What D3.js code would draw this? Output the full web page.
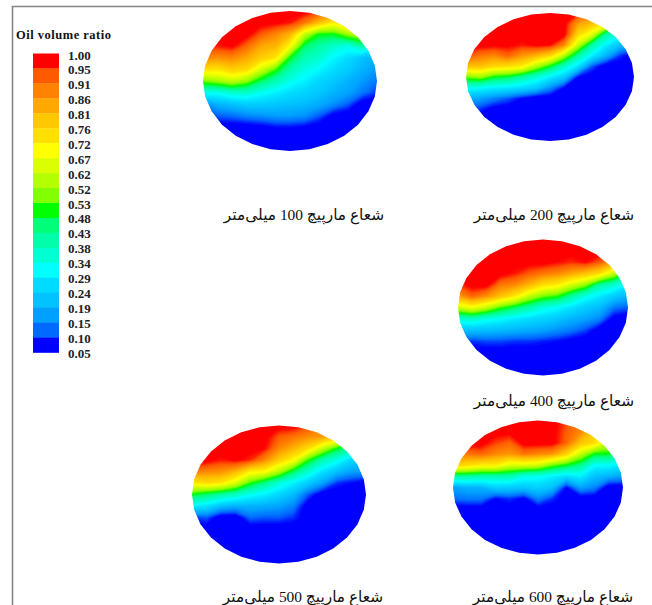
<!DOCTYPE html>
<html>
<head>
<meta charset="utf-8">
<script src="https://cdn.jsdelivr.net/npm/d3@7"></script>
<style>
    body { margin: 0; background: white; }
</style>
</head>
<body>
<script>
// legend
const legendTitle = "Oil volume ratio"
const legendLabels = ["1.00","0.95","0.91","0.86","0.81","0.76","0.72","0.67","0.62","0.52","0.53",
    "0.48","0.43","0.38","0.34","0.29","0.24","0.19","0.15","0.10","0.05"]
const bandColors = ["#ff0000","#ff5a00","#ff8200","#ffa800","#ffc800","#ffe000","#ffff00","#dcff00",
    "#b4ff00","#82ff00","#00ff00","#00ff78","#00ffaa","#00ffd2","#00ffff","#00dcff","#00c3ff",
    "#00a0ff","#0069ff","#0000ff"]

const captions = ["شعاع مارپیچ 100 میلی‌متر","شعاع مارپیچ 200 میلی‌متر","شعاع مارپیچ 400 میلی‌متر",
    "شعاع مارپیچ 500 میلی‌متر","شعاع مارپیچ 600 میلی‌متر"]

// oil volume ratio in percent, 13 columns x 13 rows over each disc
const r100 = [
    [100,100,100,100,100,100,100,100,96,90,85,80,70],
    [100,100,100,100,100,99,97,90,80,72,80,75,60],
    [100,100,100,100,93,88,82,62,50,50,58,62,45],
    [96,97,99,92,84,82,70,47,42,37,34,42,30],
    [88,87,88,84,78,74,50,40,37,31,27,22,20],
    [75,74,78,76,64,53,41,35,31,27,24,20,17],
    [55,58,62,57,47,40,34,30,26,23,20,17,14],
    [33,33,37,37,33,30,27,25,23,20,18,14,10],
    [15,20,22,24,24,23,22,21,19,16,12,5,5],
    [10,12,13,15,16,17,17,16,12,6,5,5,5],
    [5,5,5,5,6,8,8,7,5,5,5,5,5],
    [5,5,5,5,5,5,5,5,5,5,5,5,5],
    [5,5,5,5,5,5,5,5,5,5,5,5,5],
]
const r200 = [
    [100,100,100,100,100,100,100,100,97,90,85,70,50],
    [100,100,100,100,100,100,100,100,85,80,72,55,40],
    [100,100,100,100,100,100,100,100,76,66,42,34,25],
    [100,100,99,99,97,99,98,88,62,42,30,22,18],
    [94,90,88,92,86,82,76,60,42,30,20,10,5],
    [80,80,76,75,72,60,50,38,28,12,5,5,5],
    [55,58,50,48,42,36,30,24,8,5,5,5,5],
    [33,32,30,29,27,24,16,8,5,5,5,5,5],
    [20,18,15,12,8,5,5,5,5,5,5,5,5],
    [12,10,6,5,5,5,5,5,5,5,5,5,5],
    [5,5,5,5,5,5,5,5,5,5,5,5,5],
    [5,5,5,5,5,5,5,5,5,5,5,5,5],
    [5,5,5,5,5,5,5,5,5,5,5,5,5],
]
const r400 = [
    [100,100,100,100,100,100,100,100,100,100,100,100,100],
    [100,100,100,100,100,100,100,100,100,100,100,95,80],
    [100,100,100,100,100,100,100,98,96,98,93,85,70],
    [100,100,100,100,97,93,90,88,84,80,75,62,45],
    [95,100,100,90,88,82,75,72,64,57,42,37,30],
    [85,92,87,80,73,62,55,52,42,34,29,24,20],
    [63,68,62,53,47,41,35,32,28,24,21,14,12],
    [36,38,34,32,29,27,25,23,20,18,15,6,5],
    [22,22,22,21,20,19,18,16,14,11,5,5,5],
    [12,10,11,11,10,10,9,8,6,5,5,5,5],
    [5,5,5,5,5,5,5,5,5,5,5,5,5],
    [5,5,5,5,5,5,5,5,5,5,5,5,5],
    [5,5,5,5,5,5,5,5,5,5,5,5,5],
]
const r500 = [
    [100,100,100,100,100,100,100,100,95,90,85,70,50],
    [100,100,100,100,100,100,93,90,87,85,78,60,40],
    [100,100,100,100,100,98,88,82,75,62,50,42,30],
    [100,100,97,99,96,88,78,70,52,40,34,26,22],
    [90,88,87,82,72,70,60,47,37,28,22,18,17],
    [72,75,73,65,52,44,36,30,24,18,10,8,6],
    [50,46,42,38,33,30,26,21,12,5,5,5,5],
    [30,28,22,20,20,19,18,15,5,5,5,5,5],
    [10,12,5,5,13,12,12,10,5,5,5,5,5],
    [5,5,5,5,5,5,5,5,5,5,5,5,5],
    [5,5,5,5,5,5,5,5,5,5,5,5,5],
    [5,5,5,5,5,5,5,5,5,5,5,5,5],
    [5,5,5,5,5,5,5,5,5,5,5,5,5],
]
const r600 = [
    [100,100,100,100,100,100,100,100,95,85,80,70,60],
    [100,100,100,100,100,100,100,100,93,88,78,65,50],
    [100,100,100,95,92,100,100,100,92,80,75,62,45],
    [90,90,92,88,86,90,88,86,77,62,50,50,38],
    [78,75,72,72,65,65,63,55,50,44,32,32,28],
    [42,42,40,40,40,34,33,30,27,30,22,20,18],
    [18,20,20,25,24,23,25,22,8,18,15,5,5],
    [13,14,14,8,10,7,15,10,5,5,5,5,5],
    [5,5,5,5,5,5,5,5,5,5,5,5,5],
    [5,5,5,5,5,5,5,5,5,5,5,5,5],
    [5,5,5,5,5,5,5,5,5,5,5,5,5],
    [5,5,5,5,5,5,5,5,5,5,5,5,5],
    [5,5,5,5,5,5,5,5,5,5,5,5,5],
]

const W = 652, H = 605
const serif = "'Liberation Serif','DejaVu Serif','DejaVu Sans',serif"

const svg = d3.select("body").append("svg")
    .attr("width", W)
    .attr("height", H)
    .style("display", "block")

// frame, top and left only
svg.append("path")
    .attr("d", d3.line()([[12.5, H], [12.5, 6.5], [W, 6.5]]))
    .attr("fill", "none")
    .attr("stroke", "#858585")
    .attr("stroke-width", 1.6)

const levels = d3.range(5, 101)
const colorOf = d3.scaleLinear()
    .domain(bandColors.map((c, i) => 100 - (i + 0.5) * 95 / 20))
    .range(bandColors)
    .clamp(true)

const layouts = [
    {grid: r100, cx: 290, cy: 81, rx: 87, ry: 70, capX: 304, capY: 220},
    {grid: r200, cx: 550, cy: 77, rx: 84, ry: 64, capX: 554, capY: 220},
    {grid: r400, cx: 543, cy: 307.5, rx: 85, ry: 68, capX: 554, capY: 406},
    {grid: r500, cx: 279, cy: 494.5, rx: 87, ry: 69, capX: 303, capY: 602},
    {grid: r600, cx: 538, cy: 487.5, rx: 85, ry: 67, capX: 553, capY: 602},
]

function drawDisc(l, i) {
    const n = l.grid[0].length, m = l.grid.length
    const x = d3.scaleLinear().domain([0.5, n - 0.5]).range([l.cx - l.rx, l.cx + l.rx])
    const y = d3.scaleLinear().domain([0.5, m - 0.5]).range([l.cy - l.ry, l.cy + l.ry])
    const path = d3.geoPath(d3.geoTransform({
        point(a, b) { this.stream.point(x(a), y(b)) }
    }))
    const bands = d3.contours().size([n, m]).thresholds(levels)(l.grid.flat())

    // the mesh rim is a polygon, not a true ellipse
    const rim = d3.range(28).map(k => {
        const t = k / 28 * 2 * Math.PI
        return [l.cx + l.rx * Math.cos(t), l.cy + l.ry * Math.sin(t)]
    })
    svg.append("clipPath")
        .attr("id", "rim" + i)
        .append("path")
        .attr("d", d3.line()(rim) + "Z")

    const g = svg.append("g")
        .attr("clip-path", `url(#rim${i})`)
        .style("filter", "blur(0.5px)")
    g.append("rect")
        .attr("x", l.cx - l.rx)
        .attr("y", l.cy - l.ry)
        .attr("width", 2 * l.rx)
        .attr("height", 2 * l.ry)
        .attr("fill", "#0000ff")
    g.selectAll("path")
        .data(bands)
        .join("path")
            .attr("d", path)
            .attr("fill", d => colorOf(d.value))

    svg.append("text")
        .attr("x", l.capX)
        .attr("y", l.capY)
        .attr("text-anchor", "middle")
        .attr("direction", "rtl")
        .attr("font-family", serif)
        .attr("font-size", 15.4)
        .attr("fill", "#111")
        .text(captions[i])
}
layouts.forEach(drawDisc)

// legend
svg.append("text")
    .attr("x", 16)
    .attr("y", 39)
    .attr("font-family", serif)
    .attr("font-weight", "bold")
    .attr("font-size", 12.5)
    .attr("letter-spacing", 0.5)
    .attr("fill", "#111")
    .text(legendTitle)

const bandY = d3.scaleBand().domain(d3.range(bandColors.length)).range([53.5, 352.5])
svg.append("g").selectAll("rect")
    .data(bandColors)
    .join("rect")
        .attr("x", 33)
        .attr("y", (d, i) => bandY(i))
        .attr("width", 26)
        .attr("height", bandY.bandwidth() + 0.3)
        .attr("fill", d => d)

const labelY = d3.scalePoint().domain(legendLabels).range([55, 353])
svg.append("g").selectAll("text")
    .data(legendLabels)
    .join("text")
        .attr("x", 68)
        .attr("y", d => labelY(d))
        .attr("dy", "0.35em")
        .attr("font-family", serif)
        .attr("font-weight", "bold")
        .attr("font-size", 13)
        .attr("fill", "#222")
        .text(d => d)
</script>
</body>
</html>
